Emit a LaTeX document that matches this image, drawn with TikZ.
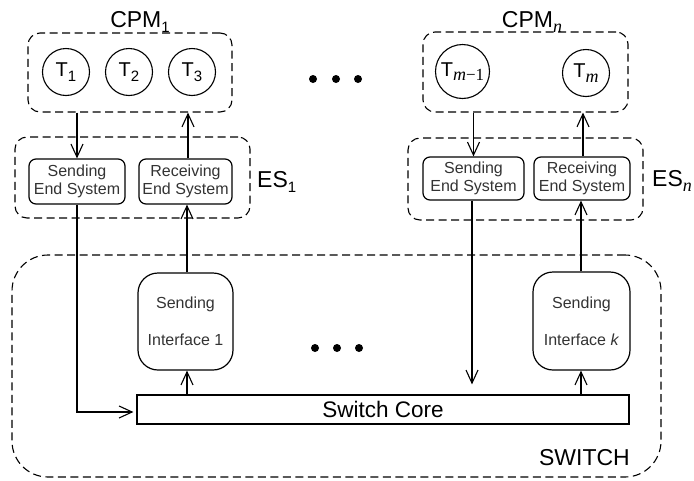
\documentclass[tikz,border=0pt]{standalone}
\usepackage{fontspec}
\setmainfont{Liberation Sans}
\newfontfamily\seritf{Liberation Serif}
\usetikzlibrary{arrows.meta}
\definecolor{txtgray}{HTML}{333333}
\newcommand\bigsub[1]{\raisebox{-5pt}{\fontsize{15}{15}\selectfont #1}}
\newcommand\tsub[1]{\raisebox{-4.5pt}{\fontsize{15}{15}\selectfont #1}}
\newcommand\iv[1]{{\seritf\itshape\fontsize{18}{18}\selectfont #1}}
\begin{document}
\begin{tikzpicture}[x=1pt,y=-1pt,
  group/.style={draw, dashed, dash pattern=on 8pt off 4.5pt, line width=1.1pt, rounded corners=12pt, inner sep=0pt},
  bigbox/.style={draw, dashed, dash pattern=on 8pt off 4.5pt, line width=1.1pt, rounded corners=36pt, inner sep=0pt},
  task/.style={draw, circle, line width=1.1pt, inner sep=0pt, minimum size=47pt, font=\fontsize{20}{22}\selectfont},
  esbox/.style={draw, rounded corners=7pt, line width=1.2pt, inner sep=0pt, align=center, text=txtgray, font=\fontsize{16}{18}\selectfont},
  ifbox/.style={draw, rounded corners=20pt, line width=1.2pt, inner sep=0pt, align=center, text=txtgray, font=\fontsize{16}{37}\selectfont},
  core/.style={draw, line width=1.2pt, inner sep=0pt, font=\fontsize{22.5}{26}\selectfont},
  biglabel/.style={inner sep=0pt, font=\fontsize{23}{26}\selectfont},
  arr/.style={line width=1.1pt, -{Straight Barb[length=13pt,width=12pt,line width=1.1pt]}},
  dot/.style={fill=black}
]
\useasboundingbox (0,0) rectangle (694,480);

% CPM groups
\node[group, minimum width=204pt, minimum height=79pt] (cpm1) at (130,72.5) {};
\node[group, minimum width=205pt, minimum height=80pt] (cpmn) at (525.5,72) {};
\node[biglabel, anchor=base] (cpm1l) at (140,27) {CPM\bigsub{1}};
\node[biglabel, anchor=base] (cpmnl) at (532,27) {CPM\bigsub{\iv{n}}};

% tasks
\node[task] (t1) at (66,72) {T\tsub{1}};
\node[task] (t2) at (129,72) {T\tsub{2}};
\node[task] (t3) at (192,72) {T\tsub{3}};
\node[task, minimum size=54pt] (tm1) at (462.5,71.5) {T\tsub{\iv{m}{\seritf\fontsize{17}{17}\selectfont −1}}};
\node[task] (tm) at (586,73) {T\tsub{\iv{m}}};

% dots top
\fill[dot] (313,79) circle (4pt);
\fill[dot] (336,79) circle (4pt);
\fill[dot] (358,79) circle (4pt);

% ES groups
\node[group, minimum width=235pt, minimum height=81pt] (es1) at (132.5,177.5) {};
\node[group, minimum width=235pt, minimum height=82pt] (esn) at (525.5,179) {};
\node[biglabel, anchor=base west] (es1l) at (257,187) {ES\bigsub{1}};
\node[biglabel, anchor=base west] (esnl) at (652,186) {ES\bigsub{\iv{n}}};

\node[esbox, minimum width=96pt, minimum height=45pt] (s1) at (77,181.5) {Sending\\End System};
\node[esbox, minimum width=93pt, minimum height=45pt] (r1) at (185.5,181.5) {Receiving\\End System};
\node[esbox, minimum width=101pt, minimum height=43pt] (sn) at (473.5,178.5) {Sending\\End System};
\node[esbox, minimum width=96pt, minimum height=43pt] (rn) at (582,178.5) {Receiving\\End System};

% switch
\node[bigbox, minimum width=649pt, minimum height=222pt] (sw) at (336.5,366) {};
\node[biglabel, anchor=base east] (swl) at (630,465) {SWITCH};
\node[ifbox, minimum width=95pt, minimum height=97pt] (if1) at (185.5,321.5) {Sending\\Interface 1};
\node[ifbox, minimum width=97pt, minimum height=98pt] (ifk) at (581.5,321) {Sending\\Interface \textit{k}};
\node[core, minimum width=492pt, minimum height=29pt] (core) at (383,409.5) {Switch Core};

% dots bottom
\fill[dot] (315,348) circle (4pt);
\fill[dot] (337,348) circle (4pt);
\fill[dot] (359,348) circle (4pt);

% connectors
\draw[arr] (s1.north |- cpm1.south) -- (s1.north);
\draw[arr] ([xshift=2.5pt]r1.north) -- ([xshift=2.5pt]r1.north |- cpm1.south);
\draw[arr] (sn.north |- cpmn.south) -- (sn.north);
\draw[arr] ([xshift=1pt]rn.north) -- ([xshift=1pt]rn.north |- cpmn.south);

\draw[arr, shorten >=3pt] (s1.south) |- ([yshift=-2.5pt]core.west);
\draw[arr] ([xshift=1.5pt]if1.north) -- ([xshift=1.5pt]if1.north |- r1.south);
\draw[arr] ([xshift=1.5pt]core.north -| if1) -- ([xshift=1.5pt]if1.south);

\draw[arr, shorten >=10pt] ([xshift=-1.5pt]sn.south) -- ([xshift=-1.5pt]sn.south |- core.north);
\draw[arr] ([xshift=-0.5pt]ifk.north) -- ([xshift=-0.5pt]ifk.north |- rn.south);
\draw[arr] ([xshift=-0.5pt]core.north -| ifk) -- ([xshift=-0.5pt]ifk.south);
\end{tikzpicture}
\end{document}
